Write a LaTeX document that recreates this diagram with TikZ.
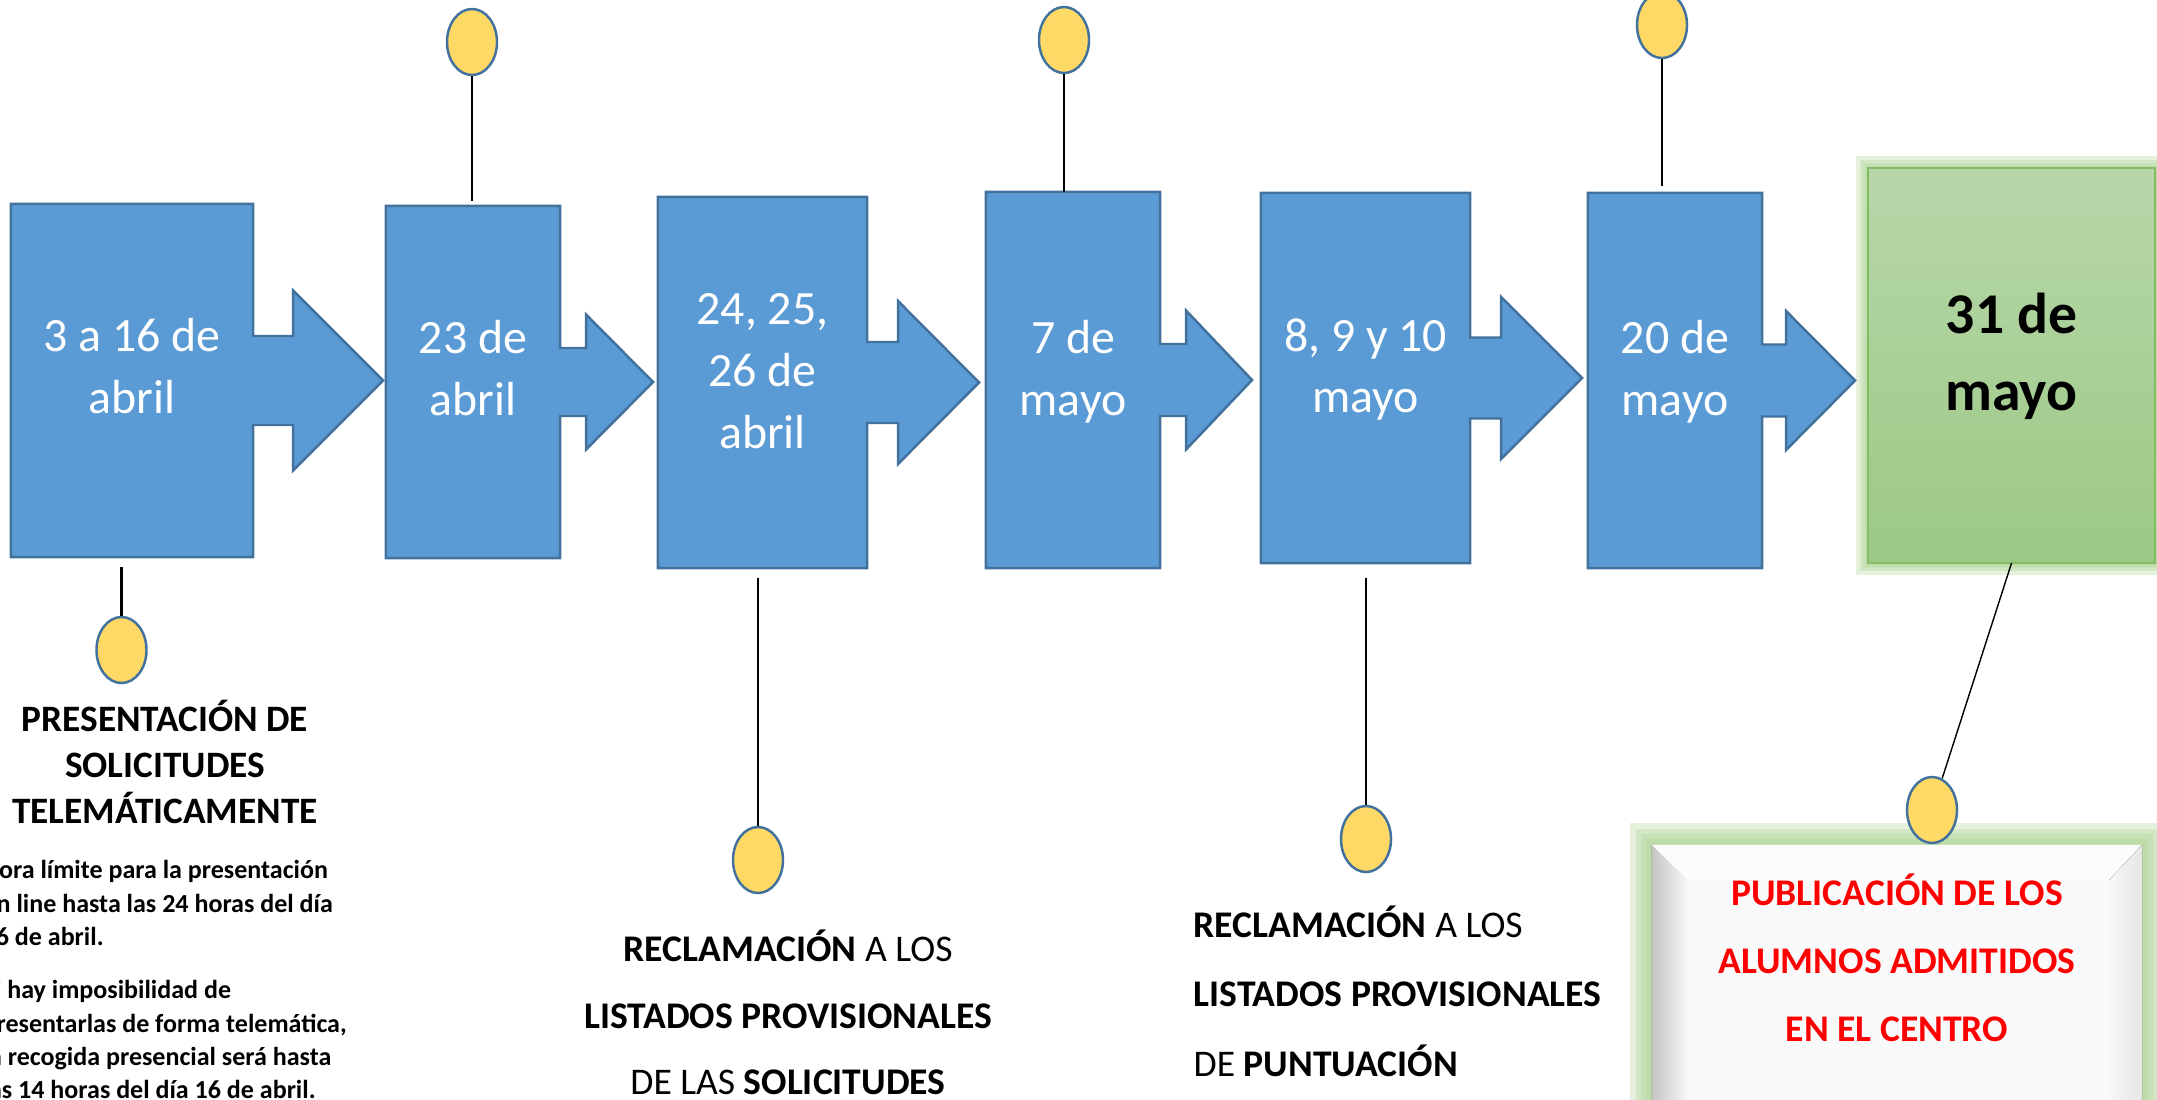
\documentclass[tikz,border=0pt]{standalone}
\usepackage{fontspec}
\setmainfont{Carlito}
\usepackage{tikz}
\usetikzlibrary{shapes,calc,positioning}

\definecolor{boxblue}{HTML}{5B9BD5}
\definecolor{edgeblue}{HTML}{41719C}
\definecolor{pinyellow}{HTML}{FFD966}
\definecolor{glowgreen}{HTML}{A9D18E}
\definecolor{greentop}{HTML}{B7D7A9}
\definecolor{greenbot}{HTML}{9CC985}
\definecolor{greenedge}{HTML}{84BB63}
\definecolor{bevelgray}{HTML}{C4C4C4}

% box with its arrow: name, shaft half height, shaft length, head half height, head length
\newcommand{\arrowbox}[5]{%
  \draw[callout] (#1.north west) -- (#1.north east)
    -- ($(#1.east)+(0,-#2)$) -- ++(#3,0) -- ++(0,#2-#4)
    -- ++(#5,#4) -- ++(-#5,#4) -- ++(0,#2-#4) -- ++(-#3,0)
    -- (#1.south east) -- (#1.south west) -- cycle;}

\begin{document}
\begin{tikzpicture}[x=0.01cm, y=-0.01cm,
    boxframe/.style={inner sep=0pt, outer sep=0pt},
    callout/.style={fill=boxblue, draw=edgeblue, line width=0.7pt},
    datetext/.style={text=white, align=center, inner sep=0pt, font=\fontsize{13.6}{17.6}\selectfont},
    knob/.style={ellipse, draw=edgeblue, fill=pinyellow, line width=0.7pt,
      minimum width=0.5cm, minimum height=0.66cm, inner sep=0pt},
    stem/.style={line width=0.75pt},
    heading/.style={align=center, inner sep=0pt, font=\bfseries\fontsize{10.6}{13.1}\selectfont},
    note/.style={align=left, inner sep=0pt, font=\bfseries\fontsize{7.4}{9.4}\selectfont},
    claim/.style={inner sep=0pt, font=\fontsize{10.7}{19}\selectfont},
    glow/.style={draw=glowgreen, opacity=0.3}]
  \useasboundingbox (0,0) rectangle (2157,1099);

  \node (abril3) [boxframe, minimum width=2.42cm, minimum height=3.53cm] at (132,380.5) {};
  \arrowbox{abril3}{44.5}{40}{90}{90}
  \node (t3) [datetext] at ([yshift=0.145cm]abril3.center) {3 a 16 de\\abril};

  \node (abril23) [boxframe, minimum width=1.74cm, minimum height=3.52cm] at (473,382) {};
  \arrowbox{abril23}{34}{26}{67.5}{67}
  \node (t23) [datetext] at ([yshift=0.135cm]abril23.center) {23 de\\abril};

  \node (abril24) [boxframe, minimum width=2.09cm, minimum height=3.71cm] at (762.5,382.5) {};
  \arrowbox{abril24}{40.5}{31}{81.5}{81}
  \node (t24) [datetext] at ([yshift=0.115cm]abril24.center) {24, 25,\\26 de\\abril};

  \node (mayo7) [boxframe, minimum width=1.74cm, minimum height=3.76cm] at (1073,380) {};
  \arrowbox{mayo7}{36}{26}{69.5}{66}
  \node (t7) [datetext] at ([yshift=0.085cm]mayo7.center) {7 de\\mayo};

  \node (mayo8) [boxframe, minimum width=2.09cm, minimum height=3.70cm] at (1365.5,378) {};
  \arrowbox{mayo8}{40.5}{31}{81}{81}
  \node (t8) [datetext] at ([yshift=0.085cm]mayo8.center) {8, 9 y 10\\mayo};

  \node (mayo20) [boxframe, minimum width=1.74cm, minimum height=3.75cm] at (1675,380.5) {};
  \arrowbox{mayo20}{36}{24}{69.5}{69}
  \node (t20) [datetext] at ([yshift=0.09cm]mayo20.center) {20 de\\mayo};

  % last date, green with glow
  \path (2011.5,365.5) coordinate (mid31);
  \foreach \w in {24,16,10,5}
    \draw[glow, line width=\w*0.01cm] ($(mid31)+(-143.5,-197.5)$) rectangle ($(mid31)+(143.5,197.5)$);
  \node (mayo31) [boxframe, minimum width=2.87cm, minimum height=3.95cm, draw=greenedge,
    line width=0.4pt, top color=greentop, bottom color=greenbot] at (mid31) {};
  \node (t31) [align=center, inner sep=0pt, font=\bfseries\fontsize{16.4}{22}\selectfont]
    at ([yshift=0.09cm]mayo31.center) {31 de\\mayo};

  % knobs and stems
  \node (dot3) [knob] at (121.5,650) {};
  \node (dot23) [knob] at (472,42) {};
  \node (dot24) [knob] at (758,860) {};
  \node (dot7) [knob] at (1064,40) {};
  \node (dot8) [knob] at (1366,839) {};
  \node (dot20) [knob] at (1662,25) {};
  \draw[stem, shorten <=0.1cm] (dot3 |- abril3.south) -- (dot3);
  \draw[stem, shorten >=0.05cm] (dot23) -- (dot23 |- abril23.north);
  \draw[stem, shorten <=0.1cm] (dot24 |- abril24.south) -- (dot24);
  \draw[stem] (dot7) -- (dot7 |- mayo7.north);
  \draw[stem, shorten <=0.15cm] (dot8 |- mayo8.south) -- (dot8);
  \draw[stem, shorten >=0.07cm] (dot20) -- (dot20 |- mayo20.north);

  \node (cap3) [heading, anchor=north] at (165,699) {PRESENTACIÓN DE\\SOLICITUDES\\TELEMÁTICAMENTE};
  \node (note3a) [note, anchor=north west] at (-18,860) {Hora límite para la presentación\\on line hasta las 24 horas del día\\16 de abril.};
  \node (note3b) [note, anchor=north west] at (-18,980) {Si hay imposibilidad de\\presentarlas de forma telemática,\\la recogida presencial será hasta\\las 14 horas del día 16 de abril.};
  \node (cap24) [claim, align=center, anchor=north] at (788,929)
    {\textbf{RECLAMACIÓN} A LOS\\\textbf{LISTADOS PROVISIONALES}\\DE LAS \textbf{SOLICITUDES}};
  \node (cap8) [claim, align=left, anchor=north west, font=\fontsize{10.7}{19.8}\selectfont] at (1193,905)
    {\textbf{RECLAMACIÓN} A LOS\\\textbf{LISTADOS PROVISIONALES}\\DE \textbf{PUNTUACIÓN}};

  % bevelled panel for the last step
  \path (1897,990) coordinate (midpub);
  \foreach \w in {44,32,22,12}
    \draw[glow, line width=\w*0.01cm] ($(midpub)+(-245,-145)$) rectangle ($(midpub)+(245,145)$);
  \node (pub) [boxframe, minimum width=4.90cm, minimum height=2.90cm, fill=white] at (midpub) {};
  \coordinate (pa) at ($(pub.north west)+(35,35)$);
  \coordinate (pb) at ($(pub.north east)+(-33,35)$);
  \coordinate (pc) at ($(pub.south east)+(-33,-35)$);
  \coordinate (pd) at ($(pub.south west)+(35,-35)$);
  \fill[left color=bevelgray, right color=gray!6] (pub.north west) -- (pa) -- (pd) -- (pub.south west) -- cycle;
  \fill[gray!2] (pub.north west) -- (pub.north east) -- (pb) -- (pa) -- cycle;
  \fill[left color=gray!6, right color=gray!20] (pub.north east) -- (pub.south east) -- (pc) -- (pb) -- cycle;
  \fill[gray!4] (pa) rectangle (pc);
  \node (cap31) [claim, align=center, anchor=north, text=red, font=\bfseries\fontsize{10.7}{19.4}\selectfont]
    at (1897,873) {PUBLICACIÓN DE LOS\\ALUMNOS ADMITIDOS\\EN EL CENTRO};

  \node (dot31) [knob] at (1932,810) {};
  \draw[line width=0.4pt] (mayo31.south) -- (dot31);
\end{tikzpicture}
\end{document}
